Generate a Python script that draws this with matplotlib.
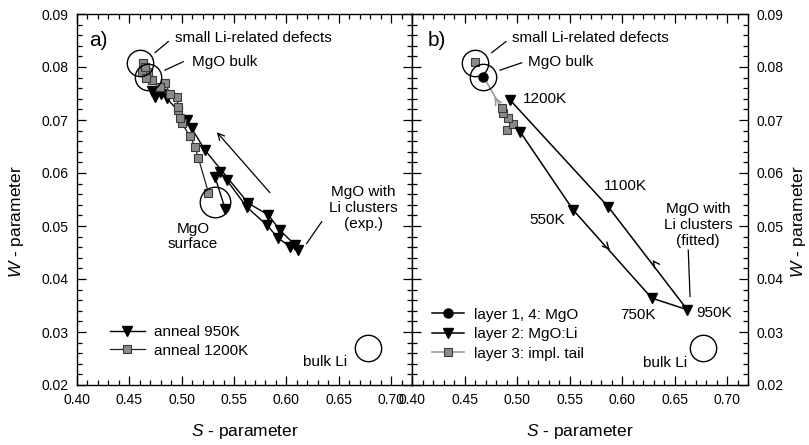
import matplotlib
matplotlib.use('Agg')
import matplotlib.pyplot as plt
from matplotlib.ticker import MultipleLocator, FormatStrFormatter
from matplotlib.lines import Line2D

plt.rcParams['font.family'] = ['Liberation Sans', 'DejaVu Sans']
plt.rcParams['mathtext.fontset'] = 'custom'
plt.rcParams['mathtext.it'] = 'Liberation Sans:italic'
plt.rcParams['mathtext.rm'] = 'Liberation Sans'

# ---------------- panel a: measured S-W curves ----------------
s_950 = [0.5414, 0.5318, 0.5366, 0.5430, 0.5620, 0.5812, 0.5923, 0.6035, 0.6114,
         0.6083, 0.5940, 0.5827, 0.5636, 0.5223, 0.5096, 0.5048, 0.4857, 0.4800,
         0.4745, 0.4720]
w_950 = [0.0533, 0.0593, 0.0602, 0.0587, 0.0536, 0.0502, 0.0477, 0.0461, 0.0455,
         0.0464, 0.0492, 0.0521, 0.0543, 0.0643, 0.0684, 0.0700, 0.0741, 0.0750,
         0.0743, 0.0755]

s_1200 = [0.5255, 0.5160, 0.5127, 0.5080, 0.5000, 0.4984, 0.4967, 0.4967, 0.4952,
          0.4888, 0.4840, 0.4793, 0.4720, 0.4680, 0.4650, 0.4620, 0.4634, 0.4650,
          0.4660]
w_1200 = [0.0563, 0.0628, 0.0650, 0.0669, 0.0694, 0.0703, 0.0719, 0.0725, 0.0744,
          0.0750, 0.0769, 0.0763, 0.0775, 0.0790, 0.0795, 0.0790, 0.0807, 0.0800,
          0.0780]

# reference states (circles) panel a: small Li defects, MgO bulk, MgO surface, bulk Li
circ_a_s = [0.4602, 0.4681, 0.5318, 0.6782]
circ_a_w = [0.0808, 0.0782, 0.0546, 0.0269]

# ---------------- panel b: fitted layers ----------------
s_layer1 = [0.4680]
w_layer1 = [0.0782]

temps = ['', '550K', '750K', '950K', '1100K', '1200K']
s_layer2 = [0.5029, 0.5536, 0.6283, 0.6622, 0.5870, 0.4933]
w_layer2 = [0.0678, 0.0530, 0.0364, 0.0342, 0.0536, 0.0738]

s_layer3 = [0.4902, 0.4965, 0.4917, 0.4870, 0.4854]
w_layer3 = [0.0681, 0.0693, 0.0703, 0.0713, 0.0722]
s_layer3_extra = [0.4600]
w_layer3_extra = [0.0810]

# reference states panel b: small Li defects, MgO bulk, bulk Li
circ_b_s = [0.4600, 0.4679, 0.6774]
circ_b_w = [0.0808, 0.0782, 0.0269]

W, H = 809, 445
fig = plt.figure(figsize=(W / 100, H / 100), dpi=100)
axA = fig.add_axes([77 / W, 60 / H, 335 / W, 371 / H])
axB = fig.add_axes([412 / W, 60 / H, 336 / W, 371 / H])

GRAY_FC = '#8a8a8a'
GRAY_EC = '#3a3a3a'
GRAY_LN = '#9a9a9a'
FS_ANN = 11
FS_LAB = 12.5

for ax in (axA, axB):
    ax.set_xlim(0.40, 0.72)
    ax.set_ylim(0.02, 0.09)
    ax.xaxis.set_major_locator(MultipleLocator(0.05))
    ax.xaxis.set_minor_locator(MultipleLocator(0.01))
    ax.yaxis.set_major_locator(MultipleLocator(0.01))
    ax.yaxis.set_minor_locator(MultipleLocator(0.002))
    ax.xaxis.set_major_formatter(FormatStrFormatter('%.2f'))
    ax.yaxis.set_major_formatter(FormatStrFormatter('%.2f'))
    ax.tick_params(which='both', direction='in', top=True, right=True,
                   bottom=True, left=True, width=0.9, labelsize=10, pad=6)
    ax.tick_params(which='major', length=6.5)
    ax.tick_params(which='minor', length=3.5)
    for sp in ax.spines.values():
        sp.set_linewidth(1.0)
    ax.set_xlabel(r'$S$ - parameter', fontsize=FS_LAB)
    ax.xaxis.set_label_coords(0.5, -0.10)

axA.tick_params(labelleft=True, labelright=False)
axB.tick_params(labelleft=False, labelright=True)
axA.set_ylabel(r'$W$ - parameter', fontsize=FS_LAB)
axA.yaxis.set_label_coords(-0.152, 0.44)
axB.yaxis.set_label_position('right')
axB.set_ylabel(r'$W$ - parameter', fontsize=FS_LAB, rotation=90)
axB.yaxis.set_label_coords(1.122, 0.44)

# ---------------- panel a ----------------
axA.plot(s_950, w_950, '-', color='k', lw=1.0, marker='v', ms=6.5,
         mfc='k', mec='k', label='anneal 950K', zorder=3)
axA.plot(s_1200, w_1200, '-', color='#222222', lw=0.9, marker='s', ms=5.5,
         mfc=GRAY_FC, mec=GRAY_EC, mew=0.8, label='anneal 1200K', zorder=4)
axA.plot(circ_a_s[:2], circ_a_w[:2], 'o', ms=19, mfc='none', mec='k', mew=1.0, zorder=5)
axA.plot(circ_a_s[2:3], circ_a_w[2:3], 'o', ms=22, mfc='none', mec='k', mew=1.0, zorder=5)
axA.plot(circ_a_s[3:], circ_a_w[3:], 'o', ms=19, mfc='none', mec='k', mew=1.0, zorder=5)

axA.text(0.4120, 0.0850, 'a)', fontsize=15, va='center', ha='left')
axA.text(0.4936, 0.0855, 'small Li-related defects', fontsize=FS_ANN, va='center')
axA.plot([0.4872, 0.4745], [0.0848, 0.0827], color='k', lw=0.9)
axA.text(0.5096, 0.0810, 'MgO bulk', fontsize=FS_ANN, va='center')
axA.plot([0.5015, 0.4840], [0.0810, 0.0794], color='k', lw=0.9)
axA.text(0.6732, 0.0534, 'MgO with\nLi clusters\n(exp.)', fontsize=FS_ANN,
         ha='center', va='center', linespacing=1.15)
axA.plot([0.6337, 0.6194], [0.0508, 0.0467], color='k', lw=0.9)
axA.text(0.5108, 0.0480, 'MgO\nsurface', fontsize=FS_ANN, ha='center', va='center',
         linespacing=1.15)
axA.text(0.6579, 0.0244, 'bulk Li', fontsize=FS_ANN, ha='right', va='center')
axA.annotate('', xy=(0.5318, 0.0681), xytext=(0.586, 0.0559),
             arrowprops=dict(arrowstyle='->', lw=0.9, color='k',
                             mutation_scale=12))

axA.legend(loc='upper left', bbox_to_anchor=(0.098, 0.161), frameon=False,
           fontsize=FS_ANN, handlelength=2.3, handletextpad=0.6,
           labelspacing=0.28, borderpad=0, borderaxespad=0)

# ---------------- panel b ----------------
axB.plot(s_layer3, w_layer3, '-', color=GRAY_LN, lw=1.2, marker='s', ms=5.5,
         mfc=GRAY_FC, mec=GRAY_EC, mew=0.8, zorder=3)
axB.plot(s_layer3_extra, w_layer3_extra, 's', ms=5.5, mfc=GRAY_FC, mec=GRAY_EC,
         mew=0.8, zorder=3)
axB.plot([s_layer3[-1], s_layer1[0]], [w_layer3[-1], w_layer1[0]], '-',
         color=GRAY_LN, lw=1.2, zorder=2)
axB.annotate('', xy=(0.4774, 0.0748), xytext=(0.4810, 0.0735),
             arrowprops=dict(arrowstyle='->', lw=1.2, color=GRAY_LN,
                             mutation_scale=11))
axB.plot(s_layer2, w_layer2, '-', color='k', lw=1.1, marker='v', ms=7,
         mfc='k', mec='k', zorder=4)
axB.plot(s_layer1, w_layer1, 'o', color='k', ms=6.5, zorder=5)
axB.plot(circ_b_s, circ_b_w, 'o', ms=19, mfc='none', mec='k', mew=1.0, zorder=5)

# direction arrows along layer-2 path
axB.annotate('', xy=(0.5900, 0.0451), xytext=(0.5860, 0.0460),
             arrowprops=dict(arrowstyle='->', lw=1.0, color='k', mutation_scale=11))
axB.annotate('', xy=(0.6290, 0.0436), xytext=(0.6320, 0.0428),
             arrowprops=dict(arrowstyle='->', lw=1.0, color='k', mutation_scale=11))

axB.text(0.4152, 0.0850, 'b)', fontsize=15, va='center', ha='left')
axB.text(0.4950, 0.0855, 'small Li-related defects', fontsize=FS_ANN, va='center')
axB.plot([0.4895, 0.4759], [0.0848, 0.0827], color='k', lw=0.9)
axB.text(0.5108, 0.0810, 'MgO bulk', fontsize=FS_ANN, va='center')
axB.plot([0.5045, 0.4838], [0.0808, 0.0794], color='k', lw=0.9)
axB.text(0.5060, 0.0739, temps[5], fontsize=FS_ANN, va='center', ha='left')
axB.text(0.5829, 0.0576, temps[4], fontsize=FS_ANN, va='center', ha='left')
axB.text(0.5457, 0.0511, temps[1], fontsize=FS_ANN, va='center', ha='right')
axB.text(0.5988, 0.0332, temps[2], fontsize=FS_ANN, va='center', ha='left')
axB.text(0.6711, 0.0336, temps[3], fontsize=FS_ANN, va='center', ha='left')
axB.text(0.6724, 0.0502, 'MgO with\nLi clusters\n(fitted)', fontsize=FS_ANN,
         ha='center', va='center', linespacing=1.15)
axB.plot([0.6631, 0.6648], [0.04545, 0.0367], color='k', lw=0.9)
axB.text(0.6616, 0.0241, 'bulk Li', fontsize=FS_ANN, ha='right', va='center')

hB = [Line2D([], [], color='k', lw=1.1, marker='o', ms=6.5),
      Line2D([], [], color='k', lw=1.1, marker='v', ms=7),
      Line2D([], [], color=GRAY_LN, lw=1.2, marker='s', ms=5.5, mfc=GRAY_FC,
             mec=GRAY_EC, mew=0.8)]
lB = ['layer 1, 4: MgO', 'layer 2: MgO:Li', 'layer 3: impl. tail']
axB.legend(hB, lB, loc='upper left', bbox_to_anchor=(0.0586, 0.208), frameon=False,
           fontsize=FS_ANN, handlelength=2.1, handletextpad=0.7, labelspacing=0.36,
           borderpad=0, borderaxespad=0)

fig.savefig('out.png', dpi=100)
